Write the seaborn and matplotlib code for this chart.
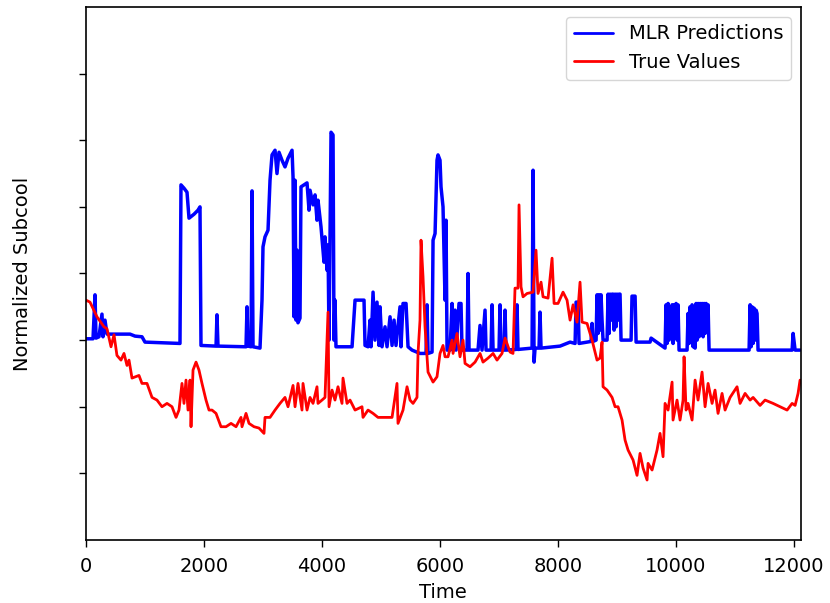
import matplotlib
matplotlib.use("Agg")
import matplotlib.pyplot as plt
import seaborn as sns
import pandas as pd

# MLR Predictions (blue)
mlr_time = [0, 119, 153, 170, 220, 271, 288, 322, 356, 746, 831, 949, 1000, 1593,
            1610, 1661, 1712, 1746, 1831, 1898, 1932, 1949, 2204, 2220, 2237, 2712,
            2729, 2746, 2797, 2814, 2831, 2949, 2983, 3000, 3034, 3085, 3119, 3153,
            3204, 3237, 3271, 3322, 3373, 3424, 3492, 3509, 3526, 3543, 3560, 3577,
            3593, 3627, 3644, 3695, 3746, 3780, 3797, 3848, 3882, 3915, 3932, 3983,
            4017, 4034, 4051, 4085, 4102, 4119, 4153, 4187, 4203, 4220, 4237, 4509,
            4560, 4712, 4729, 4780, 4814, 4831, 4865, 4898, 4932, 4966, 4983, 5017,
            5068, 5102, 5153, 5187, 5221, 5254, 5322, 5339, 5373, 5424, 5458, 5526,
            5661, 5763, 5780, 5797, 5865, 5882, 5916, 5949, 5966, 6000, 6017, 6051,
            6068, 6085, 6102, 6119, 6170, 6204, 6221, 6255, 6272, 6322, 6356, 6373,
            6458, 6475, 6492, 6644, 6678, 6712, 6763, 6780, 6865, 6882, 6899, 7000,
            7017, 7034, 7085, 7102, 7119, 7289, 7305, 7322, 7560, 7577, 7594, 7611,
            7678, 7695, 7712, 8034, 8204, 8289, 8306, 8339, 8356, 8560, 8577, 8594,
            8645, 8661, 8678, 8695, 8712, 8729, 8746, 8763, 8831,
            8848, 8865, 8882, 8899, 8916, 8933, 8950, 8967, 8984, 9000, 9017, 9034, 9051, 9068,
            9238, 9254, 9306, 9323, 9560, 9577, 9814,
            9831, 9848, 9865, 9882, 9899, 9916, 9933, 9950, 9967, 9984, 10001, 10018, 10034, 10051,
            10187, 10204, 10221, 10238, 10255, 10272, 10289, 10306, 10323, 10340, 10357, 10374,
            10391, 10408, 10425, 10442, 10459, 10476, 10493, 10510, 10527, 10543, 10560,
            11238, 11255, 11272, 11289, 11306, 11323, 11340, 11357, 11373, 11390,
            11967, 11984, 12018, 12102]
mlr_value = [0.02, 0.02, 0.68, 0.03, 0.05, 0.39, 0.05, 0.30, 0.09, 0.09, 0.06, 0.05, -0.03, -0.05,
             2.33, 2.28, 2.22, 1.83, 1.89, 1.95, 2.00, -0.08, -0.09, 0.38, -0.09, -0.10,
             0.50, -0.09, -0.10, 2.24, -0.10, -0.12, 0.60, 1.40, 1.55, 1.65, 2.40, 2.78,
             2.85, 2.50, 2.82, 2.70, 2.60, 2.73, 2.85, 2.45, 0.35, 2.40, 0.30, 1.35,
             0.26, 0.33, 2.30, 2.33, 2.36, 1.95, 2.25, 2.03, 2.18, 1.80, 2.10, 1.70,
             1.35, 1.17, 1.55, 1.05, 1.43, 0.00, 3.12, 3.08, 0.00, 0.60, -0.10, -0.10,
             0.60, 0.60, -0.08, -0.10, 0.30, -0.10, 0.72, 0.00, 0.57, -0.08, 0.50, -0.10,
             0.20, -0.10, 0.35, -0.08, 0.30, -0.08, 0.50, -0.10, 0.55, 0.55, -0.10, -0.15,
             -0.20, -0.20, 0.53, -0.20, -0.18, 1.50, 1.60, 2.70, 2.78, 2.70, 2.30, 2.00,
             1.30, 0.60, 1.80, -0.15, -0.15, 0.55, -0.15, 0.45, -0.15, 0.55, 0.55, -0.15,
             -0.15, 1.00, -0.15, -0.15, 0.22, -0.15, 0.45, -0.15, -0.15, 0.53, -0.15, -0.15,
             0.53, -0.15, -0.15, 0.45, -0.15, -0.14, 0.53, -0.14, -0.12, 2.55, -0.33, -0.12,
             -0.12, 0.42, -0.12, -0.09, -0.03, -0.05, 0.57, 0.57, -0.05, -0.02, 0.25, -0.02,
             0.00, 0.68, 0.10, 0.68, 0.15, 0.68, 0.30, 0.00, 0.00,
             0.69, 0.10, 0.69, 0.30, 0.69, 0.69, 0.15, 0.69, 0.20, 0.69, 0.30, 0.69, 0.69, 0.00,
             0.00, 0.66, 0.66, -0.03, -0.03, 0.03, -0.12,
             0.53, -0.05, 0.55, 0.00, 0.50, 0.10, 0.53, -0.05, 0.53, 0.05, 0.55, 0.00, 0.53, -0.15,
             -0.15, 0.40, -0.05, 0.50, 0.00, 0.53, -0.10, 0.30, -0.12, 0.55, 0.00, 0.55,
             0.05, 0.55, 0.10, 0.55, 0.05, 0.55, 0.10, 0.55, 0.20, 0.53, -0.15,
             -0.15, 0.53, -0.10, 0.50, -0.05, 0.48, 0.00, 0.45, 0.40, -0.15,
             -0.15, 0.10, -0.15, -0.15]

# True Values (red)
true_time = [0, 68, 186, 305, 356, 424, 475, 525, 593, 644, 695, 729, 780, 898, 949,
             1034, 1119, 1203, 1288, 1373, 1458, 1526, 1576, 1627, 1661, 1695, 1729,
             1763, 1780, 1814, 1865, 1915, 1966, 2034, 2085, 2136, 2204, 2288, 2373,
             2458, 2543, 2627, 2644, 2712, 2763, 2848, 2932, 3017, 3034, 3119, 3204,
             3288, 3373, 3424, 3509, 3543, 3593, 3661, 3678, 3746, 3797, 3848, 3915,
             3932, 4000, 4051, 4102, 4119, 4170, 4220, 4271, 4339, 4356, 4424, 4475,
             4560, 4678, 4695, 4780, 4865, 4949, 5068, 5187, 5271, 5288, 5373, 5441,
             5492, 5543, 5610, 5627, 5661, 5678, 5712, 5746, 5797, 5882, 5949, 6000,
             6051, 6085, 6136, 6204, 6221, 6288, 6339, 6390, 6424, 6509, 6594, 6678,
             6729, 6814, 6899, 6966, 7051, 7102, 7187, 7237, 7271, 7322, 7339, 7373,
             7407, 7475, 7577, 7627, 7661, 7712, 7746, 7831, 7899, 7933, 8000, 8085,
             8153, 8204, 8255, 8322, 8373, 8407, 8492, 8577, 8661, 8712, 8746, 8763,
             8831, 8916, 8967, 9017, 9085, 9136, 9187, 9272, 9339, 9390, 9441, 9509,
             9526, 9594, 9678, 9729, 9780, 9814, 9865, 9933, 9949, 10017, 10068, 10119,
             10136, 10170, 10204, 10272, 10323, 10373, 10441, 10492, 10543, 10611,
             10661, 10712, 10780, 10831, 10916, 11034, 11085, 11170, 11255, 11306,
             11424, 11509, 11645, 11763, 11882, 11967, 12018, 12068, 12102]
true_value = [0.60, 0.57, 0.35, 0.20, 0.17, -0.10, 0.08, -0.23, -0.30, -0.20, -0.38, -0.30, -0.57, -0.53, -0.65,
              -0.65, -0.86, -0.90, -1.00, -0.95, -1.00, -1.16, -1.05, -0.65, -0.95, -0.60, -1.05,
              -0.60, -1.30, -0.45, -0.33, -0.45, -0.65, -0.90, -1.05, -1.05, -1.10, -1.30, -1.30,
              -1.25, -1.30, -1.16, -1.30, -1.10, -1.25, -1.30, -1.32, -1.40, -1.16, -1.16, -1.05,
              -0.95, -0.86, -1.00, -0.68, -1.00, -0.65, -1.05, -0.65, -1.05, -0.86, -0.95, -0.70,
              -0.95, -0.90, -0.86, 0.42, -1.00, -0.75, -0.90, -0.70, -0.95, -0.57, -0.95, -0.90,
              -1.05, -1.00, -1.16, -1.05, -1.10, -1.16, -1.16, -1.16, -0.65, -1.25, -1.05, -0.70,
              -0.90, -0.95, -0.86, -0.20, 0.30, 1.50, 0.95, 0.20, -0.48, -0.63, -0.55, -0.20,
              -0.08, -0.25, -0.25, 0.00, -0.20, 0.10, -0.25, 0.00, -0.35, -0.40, -0.33, -0.20,
              -0.33, -0.27, -0.20, -0.30, -0.20, 0.03, -0.18, -0.20, 0.78, 0.78, 2.03, 0.80,
              0.65, 0.70, 0.72, 1.35, 0.70, 0.87, 0.65, 0.63, 1.23, 0.55, 0.55, 0.72,
              0.60, 0.30, 0.53, 0.27, 0.87, 0.27, 0.25, 0.00, -0.30, -0.27, -0.03, -0.70,
              -0.75, -0.86, -1.00, -1.00, -1.20, -1.50, -1.65, -1.80, -2.03, -1.70, -1.92, -2.10,
              -1.85, -1.95, -1.65, -1.40, -1.75, -0.95, -1.05, -0.63, -1.20, -0.90, -1.20, -0.90,
              -0.25, -1.05, -0.95, -1.20, -0.60, -0.90, -0.48, -1.00, -0.65, -0.95,
              -0.75, -1.10, -0.80, -1.05, -0.86, -0.70, -0.95, -0.80, -0.90, -0.86,
              -0.98, -0.90, -0.95, -1.00, -1.05, -0.95, -0.98, -0.80, -0.60]

series_names = ["MLR Predictions", "True Values"]
series_colors = ["blue", "red"]

df = pd.concat([
    pd.DataFrame({"Time": mlr_time, "value": mlr_value, "series": series_names[0]}),
    pd.DataFrame({"Time": true_time, "value": true_value, "series": series_names[1]}),
], ignore_index=True)

sns.set_style("ticks")
plt.rcParams["font.family"] = ["DejaVu Sans"]
plt.rcParams["text.color"] = "black"
plt.rcParams["axes.labelcolor"] = "black"
plt.rcParams["xtick.color"] = "black"
plt.rcParams["ytick.color"] = "black"
plt.rcParams["axes.edgecolor"] = "black"

fig = plt.figure(figsize=(8.30, 6.03), dpi=100)
ax = fig.add_axes([0.1036, 0.1045, 0.8609, 0.8839])

sns.lineplot(data=df, x="Time", y="value", hue="series",
             palette=dict(zip(series_names, series_colors)),
             estimator=None, sort=False, linewidth=2, ax=ax)
ax.lines[0].set_linewidth(2.5)

ax.set_xlim(0, 12110)
ax.set_ylim(-3, 5)
ax.set_yticks([-2, -1, 0, 1, 2, 3, 4])
ax.set_yticklabels([])
ax.set_xticks([0, 2000, 4000, 6000, 8000, 10000, 12000])
ax.tick_params(axis="both", labelsize=14, length=5, width=1, pad=7)
for s in ax.spines.values():
    s.set_linewidth(1.2)
ax.set_xlabel("Time", fontsize=14, labelpad=5)
ax.set_ylabel("Normalized Subcool", fontsize=14, labelpad=27)

handles, labels = ax.get_legend_handles_labels()
ax.legend(handles, labels, loc="upper right", fontsize=14, frameon=True)

fig.savefig("out.png", dpi=100)
